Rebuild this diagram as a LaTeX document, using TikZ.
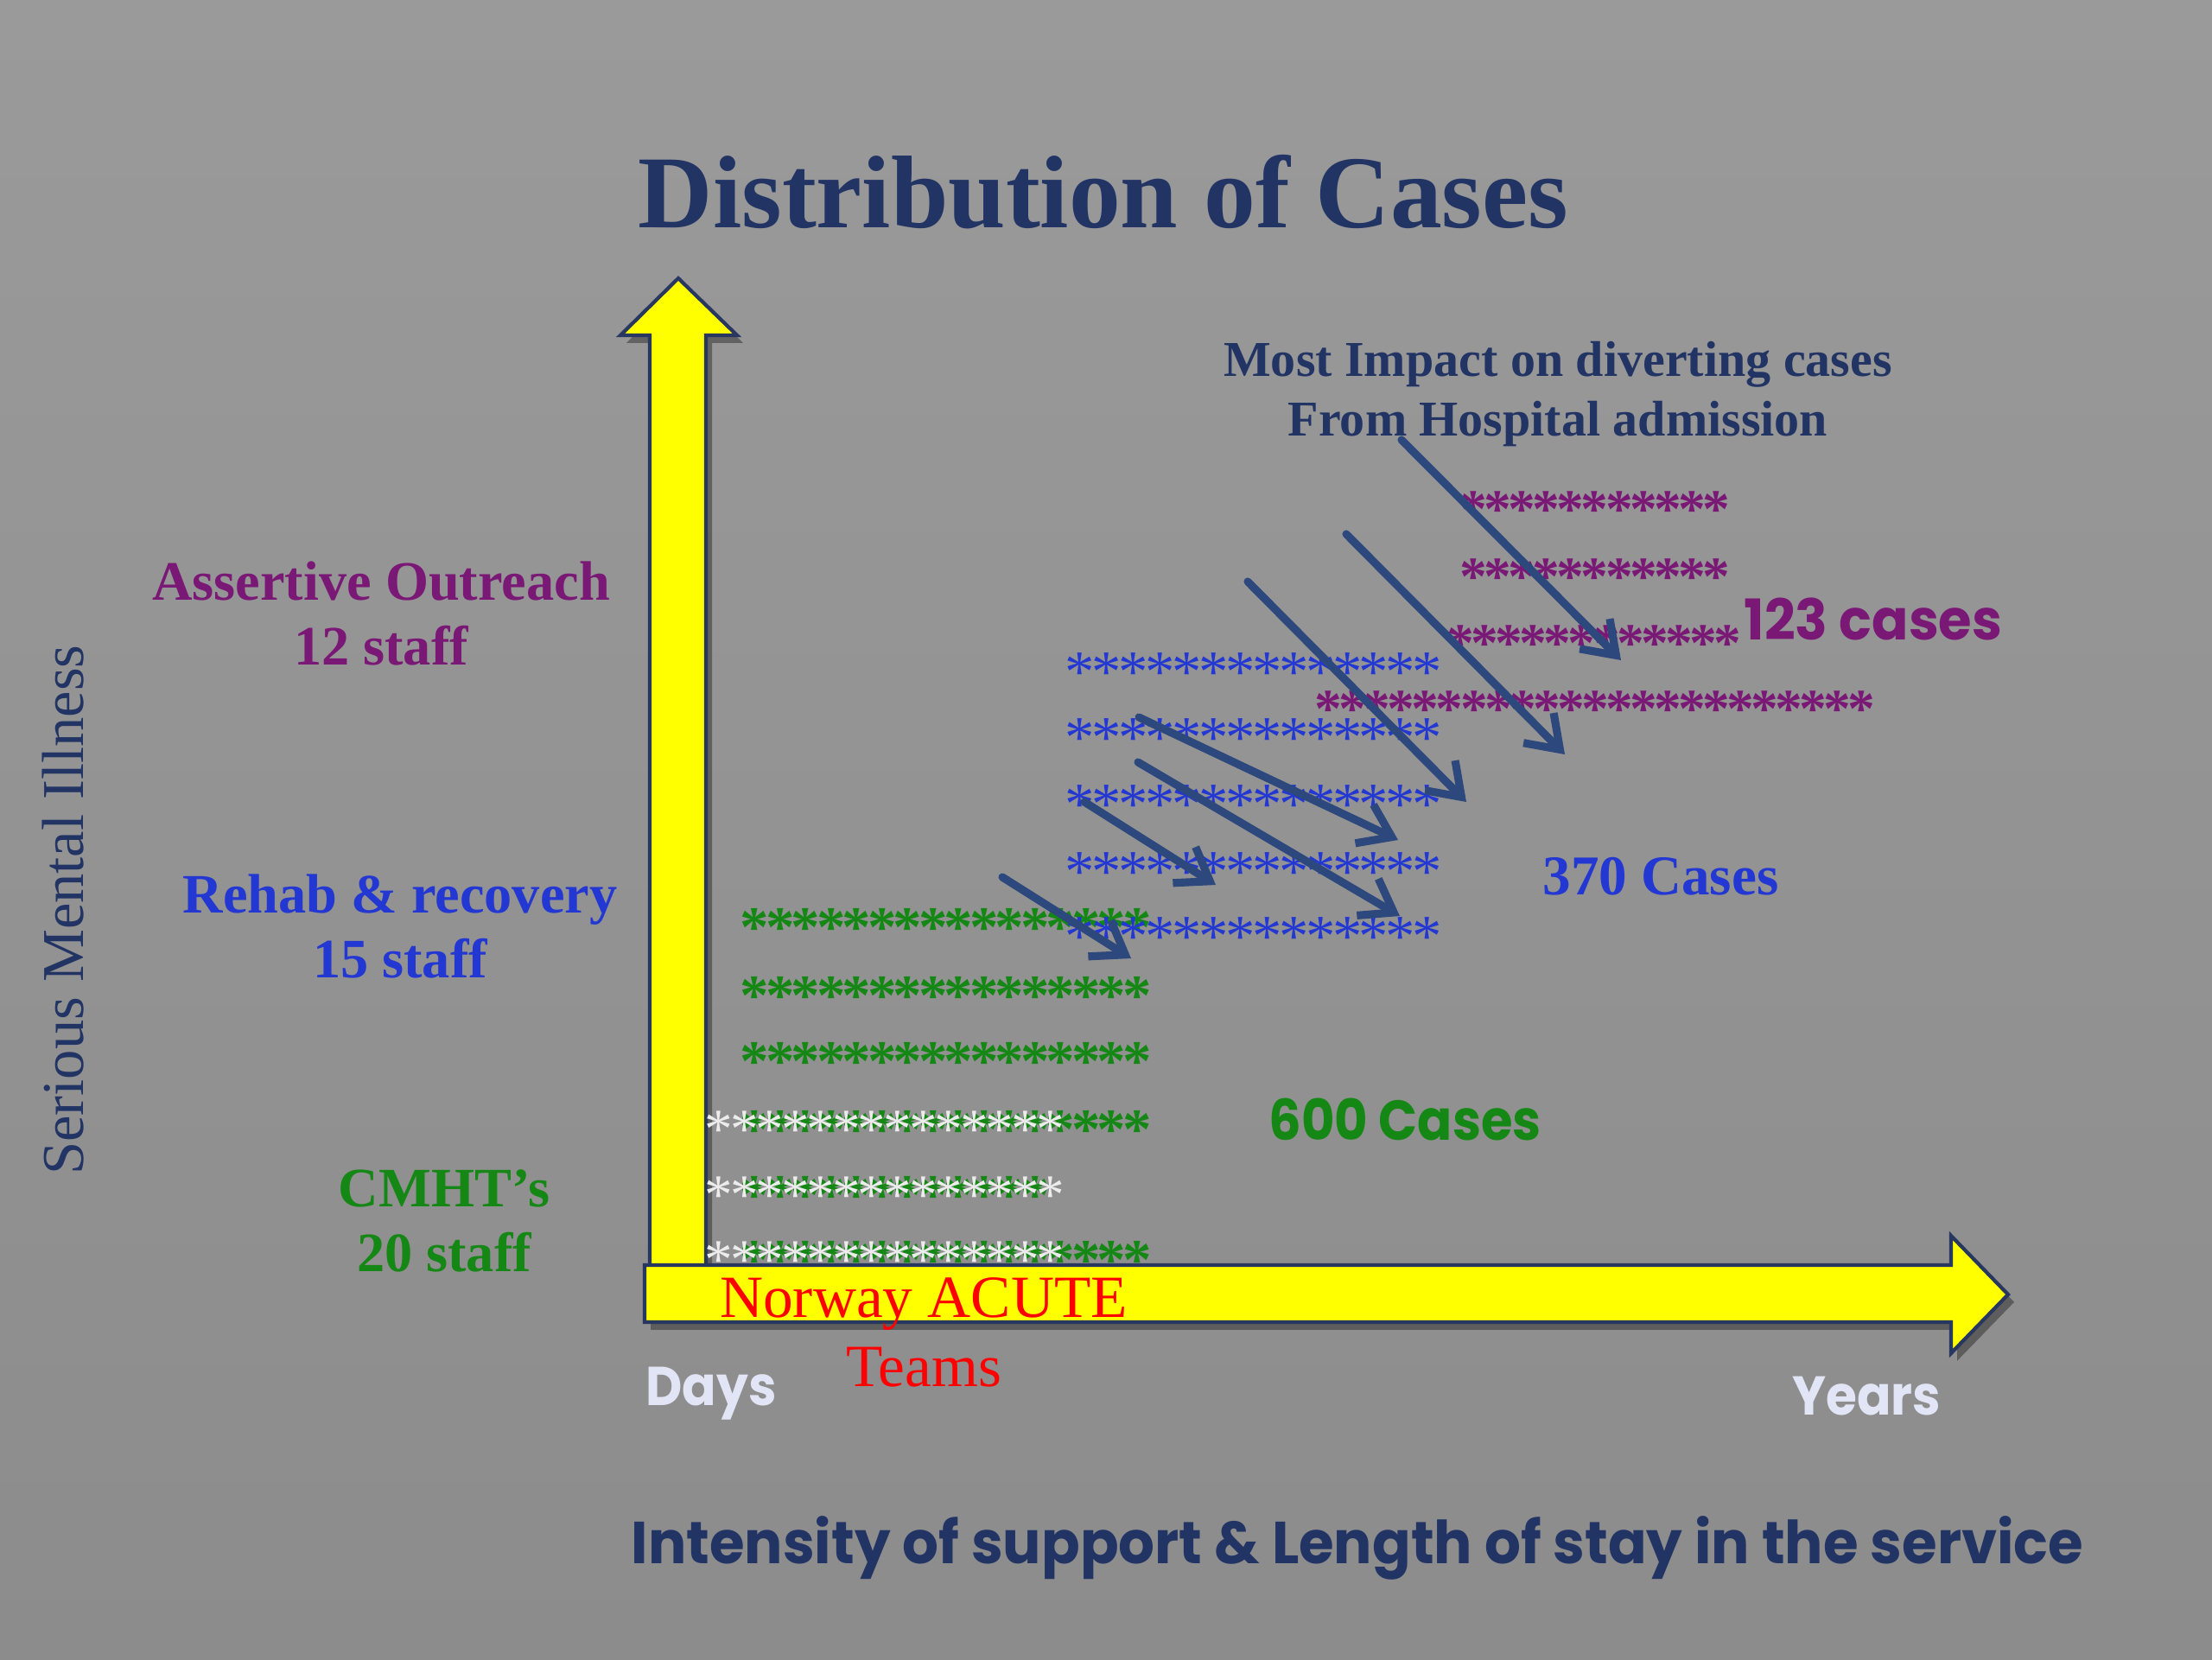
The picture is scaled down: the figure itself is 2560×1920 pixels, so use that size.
\documentclass[tikz,border=0pt]{standalone}
\usepackage{fontspec}
\setmainfont{Liberation Serif}
\newfontfamily\gothic{Poppins}
\usetikzlibrary{arrows.meta,shadows}
\definecolor{bgtop}{RGB}{154,154,154}
\definecolor{bgmid}{RGB}{166,166,166}
\definecolor{bgbot}{RGB}{140,140,140}
\definecolor{navy}{RGB}{34,52,100}
\definecolor{arrownavy}{RGB}{45,72,125}
\definecolor{axisyellow}{RGB}{255,255,0}
\definecolor{axisline}{RGB}{40,55,95}
\definecolor{aopurple}{RGB}{122,24,118}
\definecolor{rrblue}{RGB}{35,55,210}
\definecolor{cmgreen}{RGB}{20,135,20}
\definecolor{acred}{RGB}{255,0,0}
\definecolor{paleaxis}{RGB}{226,229,245}
\definecolor{whitestar}{RGB}{236,236,236}
\tikzset{
  lbl/.style={inner sep=0pt, align=center},
  starrow/.style={inner sep=0pt, anchor=base west},
  gstars/.style={starrow, text=cmgreen, font=\bfseries\fontsize{19}{21}\selectfont\addfontfeature{LetterSpace=-5.84}},
  wstars/.style={starrow, text=whitestar, font=\fontsize{18.5}{20}\selectfont\addfontfeature{LetterSpace=-4.6}},
  bstars/.style={starrow, text=rrblue, font=\fontsize{19.5}{21}\selectfont\addfontfeature{LetterSpace=-4.9}},
  pstars/.style={starrow, text=aopurple, font=\bfseries\fontsize{18}{20}\selectfont\addfontfeature{LetterSpace=-5.7}},
  yarrow/.style={fill=axisyellow, draw=axisline, line width=1.2pt, line join=miter,
    drop shadow={shadow xshift=2pt, shadow yshift=-2.5pt, opacity=0.35, fill=black}},
  impact/.style={draw=arrownavy, line width=2.6pt, line cap=round,
    -{Straight Barb[length=10pt,width=14pt]}}
}
\begin{document}
\begin{tikzpicture}[x=0.01cm, y=-0.01cm]
\useasboundingbox (0,0) rectangle (2560,1920);
\shade[top color=bgtop, middle color=bgmid, bottom color=bgbot] (0,0) rectangle (2560,1920);

% axes
\draw[yarrow] (752,1465) -- (752,388) -- (718,388) -- (785,322) -- (853,388) -- (817,388) -- (817,1465) -- cycle;
\draw[yarrow] (746,1464) -- (2258,1464) -- (2258,1430) -- (2324,1498) -- (2258,1566) -- (2258,1530) -- (746,1530) -- cycle;

% title
\node[lbl, text=navy, font=\bfseries\fontsize{34}{40}\selectfont] (title) at (1277,222) {Distribution of Cases};

% left labels
\node[lbl, text=navy, rotate=90, font=\fontsize{19.5}{23}\selectfont] (sml) at (73,1053) {Serious Mental Illness};
\node[lbl, text=aopurple, font=\bfseries\fontsize{18.3}{21.3}\selectfont] (ao) at (441,710) {Assertive Outreach\\12 staff};
\node[lbl, text=rrblue, font=\bfseries\fontsize{18.3}{21.3}\selectfont] (rr) at (463,1072) {Rehab \& recovery\\15 staff};
\node[lbl, text=cmgreen, font=\bfseries\fontsize{18.3}{21.3}\selectfont] (cm) at (514,1413) {CMHT’s\\20 staff};

% impact text
\node[lbl, text=navy, font=\bfseries\fontsize{16.5}{19.6}\selectfont] (impact) at (1803,456) {Most Impact on diverting cases\\From Hospital admission};

% green stars
\node[gstars] (g1) at (856,1095) {****************};
\node[gstars] (g2) at (856,1174) {****************};
\node[gstars] (g3) at (856,1250) {****************};
\node[gstars] (g4) at (856,1329) {****************};
\node[gstars] (g5) at (856,1405) {************};
\node[gstars] (g6) at (856,1480) {****************};
% white stars
\node[wstars] (w4) at (815,1328) {**************};
\node[wstars] (w5) at (815,1404) {**************};
\node[wstars] (w6) at (815,1479) {**************};

% blue stars
\node[bstars] (b1) at (1232,800) {**************};
\node[bstars] (b2) at (1232,876) {**************};
\node[bstars] (b3) at (1232,953) {**************};
\node[bstars] (b4) at (1232,1031) {**************};
\node[bstars] (b5) at (1232,1106) {**************};

% purple stars
\node[pstars] (p1) at (1689,610) {***********};
\node[pstars] (p2) at (1689,688) {***********};
\node[pstars] (p3) at (1674,765) {************};
\node[pstars] (p4) at (1521,841) {***********************};

% case counts
\node[lbl, text=aopurple, font=\gothic\bfseries\fontsize{18.5}{22}\selectfont] (c123) at (2168,716) {\scalebox{0.96}[1]{123 cases}};
\node[lbl, text=rrblue, font=\bfseries\fontsize{18.5}{22}\selectfont] (c370) at (1922,1014) {370 Cases};
\node[lbl, text=cmgreen, font=\gothic\bfseries\fontsize{18.5}{22}\selectfont] (c600) at (1626,1296) {\scalebox{0.91}[1]{600 Cases}};

% acute teams
\node[lbl, text=acred, font=\fontsize{19.7}{22.8}\selectfont] (acute) at (1069,1542) {Norway ACUTE\\Teams};

% axis end labels
\node[lbl, text=paleaxis, font=\gothic\bfseries\fontsize{18}{21}\selectfont] (days) at (823,1613) {\scalebox{0.92}[1]{Days}};
\node[lbl, text=paleaxis, font=\gothic\bfseries\fontsize{18}{21}\selectfont] (years) at (2160,1616) {\scalebox{0.92}[1]{Years}};
\node[lbl, text=navy, font=\gothic\bfseries\fontsize{19.5}{24}\selectfont] (xlabel) at (1571,1791) {\scalebox{0.96}[1]{Intensity of support \& Length of stay in the service}};

% diverting arrows
\coordinate (aAs) at (1622,509);  \coordinate (aAe) at (1876,764);
\coordinate (aBs) at (1558,618);  \coordinate (aBe) at (1811,873);
\coordinate (aCs) at (1444,673);  \coordinate (aCe) at (1697,928);
\coordinate (aDs) at (1318,830);  \coordinate (aDe) at (1618,972);
\coordinate (aEs) at (1317,882);  \coordinate (aEe) at (1620,1060);
\coordinate (aFs) at (1255,928);  \coordinate (aFe) at (1407,1024);
\coordinate (aGs) at (1160,1015); \coordinate (aGe) at (1309,1109);
\draw[impact] (aAs) -- (aAe);
\draw[impact] (aBs) -- (aBe);
\draw[impact] (aCs) -- (aCe);
\draw[impact] (aDs) -- (aDe);
\draw[impact] (aEs) -- (aEe);
\draw[impact] (aFs) -- (aFe);
\draw[impact] (aGs) -- (aGe);
\end{tikzpicture}
\end{document}
